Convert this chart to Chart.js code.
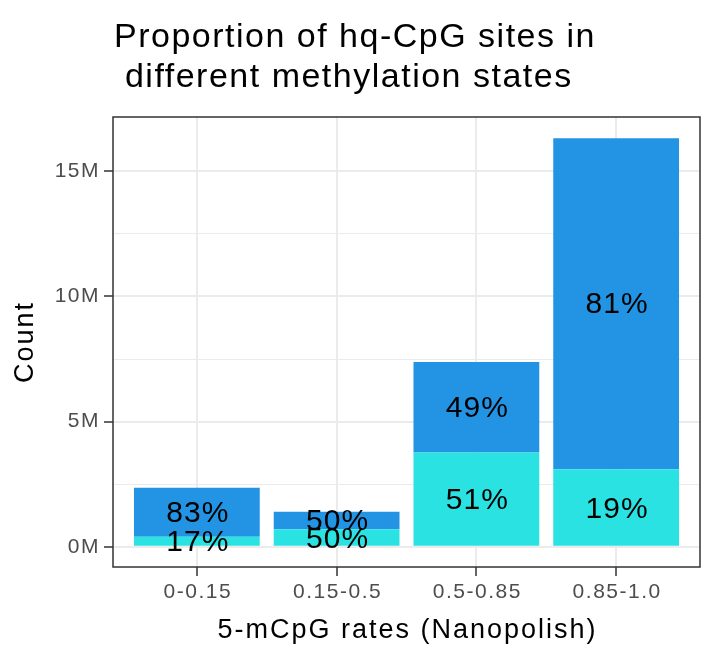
<!DOCTYPE html>
<html lang="en">
<head>
  <meta charset="UTF-8">
  <title>hq-CpG methylation states</title>
  <style>
    body { margin: 0; background: #fff; }
    #wrap { width: 701px; height: 657px; }
  </style>
  <script src="https://cdn.jsdelivr.net/npm/chart.js"></script>
</head>
<body>
  <div id="wrap"><canvas id="chart" width="701" height="657"></canvas></div>
  <script>
    // values in millions of sites
    const categories = ['0-0.15', '0.15-0.5', '0.5-0.85', '0.85-1.0'];
    const lowCounts = [0.40, 0.70, 3.76, 3.10];   // cyan, bottom
    const highCounts = [1.96, 0.70, 3.62, 13.22]; // blue, top
    const lowLabels = ['17%', '50%', '51%', '19%'];
    const highLabels = ['83%', '50%', '49%', '81%'];
    const yTicks = [0, 2.5, 5, 7.5, 10, 12.5, 15];

    const FONT = '"Liberation Sans", Arial, sans-serif';

    const textPlugin = {
      id: 'texts',
      afterDatasetsDraw(chart) {
        const ctx = chart.ctx;
        const xs = chart.scales.x, ys = chart.scales.y;
        ctx.save();
        ctx.fillStyle = '#000';
        ctx.font = '30px ' + FONT;
        ctx.letterSpacing = '1px';
        ctx.textAlign = 'center';
        ctx.textBaseline = 'middle';
        categories.forEach((c, i) => {
          const x = xs.getPixelForValue(i) + 1;
          ctx.fillText(lowLabels[i], x, ys.getPixelForValue(lowCounts[i] / 2) + 1.5);
          ctx.fillText(highLabels[i], x, ys.getPixelForValue(lowCounts[i] + highCounts[i] / 2) + 1.5);
        });
        ctx.restore();
      },
      afterDraw(chart) {
        const ctx = chart.ctx;
        const a = chart.chartArea;
        const xs = chart.scales.x, ys = chart.scales.y;
        ctx.save();
        // panel border
        ctx.strokeStyle = '#333';
        ctx.lineWidth = 1.5;
        ctx.strokeRect(a.left, a.top, a.right - a.left, a.bottom - a.top);
        // tick labels
        ctx.fillStyle = '#4D4D4D';
        ctx.font = '21px ' + FONT;
        ctx.letterSpacing = '1.5px';
        ctx.textBaseline = 'middle';
        ctx.textAlign = 'center';
        categories.forEach((c, i) => ctx.fillText(c, xs.getPixelForValue(i) + 1, 592));
        ctx.textAlign = 'right';
        yTicks.filter(v => v % 5 === 0).forEach(v => ctx.fillText(v + 'M', 100, ys.getPixelForValue(v)));
        // title
        ctx.fillStyle = '#000';
        ctx.font = '34px ' + FONT;
        ctx.letterSpacing = '1.5px';
        ctx.textAlign = 'left';
        ctx.textBaseline = 'alphabetic';
        ctx.fillText('Proportion of hq-CpG sites in', 114, 47);
        ctx.fillText(' different methylation states', 114, 87);
        // axis titles
        ctx.font = '27px ' + FONT;
        ctx.letterSpacing = '2px';
        ctx.textAlign = 'center';
        ctx.fillText('5-mCpG rates (Nanopolish)', (a.left + a.right) / 2 + 1, 638);
        ctx.translate(33, (a.top + a.bottom) / 2);
        ctx.rotate(-Math.PI / 2);
        ctx.fillText('Count', 0, 0);
        ctx.restore();
      }
    };

    new Chart(document.getElementById('chart'), {
      type: 'bar',
      data: {
        datasets: [
          { label: 'low', data: lowCounts.map((v, i) => ({ x: i, y: v })), backgroundColor: '#2BE2E2' },
          { label: 'high', data: highCounts.map((v, i) => ({ x: i, y: v })), backgroundColor: '#2394E4' }
        ]
      },
      options: {
        responsive: false,
        animation: false,
        devicePixelRatio: 1,
        categoryPercentage: 1,
        barPercentage: 0.9,
        layout: { padding: { top: 117, right: 1, left: 0, bottom: 0 } },
        plugins: { legend: { display: false }, tooltip: { enabled: false } },
        scales: {
          x: {
            type: 'linear', stacked: true, min: -0.6, max: 3.6, offset: false,
            afterBuildTicks: s => { s.ticks = categories.map((c, i) => ({ value: i })); },
            afterFit: s => { s.height = 90; },
            border: { display: false },
            grid: { offset: false, color: '#EBEBEB', lineWidth: 2, tickLength: 9, tickColor: '#333', tickWidth: 1.5 },
            ticks: { display: false }
          },
          y: {
            stacked: true, min: -0.81, max: 17.17,
            afterBuildTicks: s => { s.ticks = yTicks.map(v => ({ value: v })); },
            afterFit: s => { s.width = 113; },
            border: { display: false },
            grid: {
              color: '#EBEBEB',
              lineWidth: c => (c.tick && c.tick.value % 5 === 0 ? 2 : 1),
              tickLength: 9,
              tickWidth: 1.5,
              tickColor: c => (c.tick && c.tick.value % 5 === 0 ? '#333' : 'rgba(0,0,0,0)')
            },
            ticks: { display: false }
          }
        }
      },
      plugins: [textPlugin]
    });
  </script>
</body>
</html>
